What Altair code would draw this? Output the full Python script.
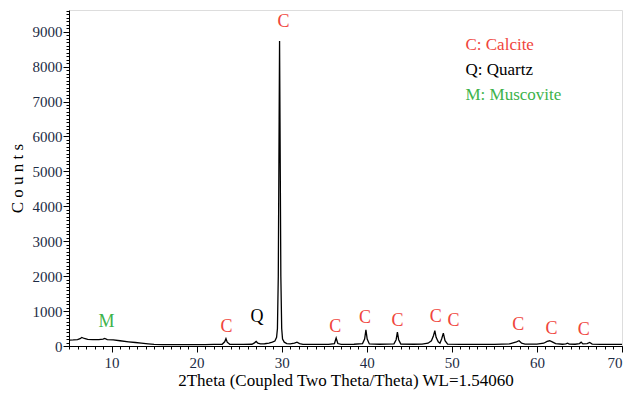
import altair as alt
import pandas as pd

# ---- diffraction profile ----
two_theta = [5.0, 5.5, 6.0, 6.3, 6.5, 6.8, 7.2, 7.8, 8.5, 9.0, 9.2, 9.5, 10.2, 11.0, 12.0, 12.8,
             13.5, 14.3, 15.0, 16.0, 17.0, 18.0, 19.0, 20.0, 21.0, 22.0, 23.0, 23.3, 23.45, 23.6,
             23.9, 24.5, 25.5, 26.5, 26.8, 27.0, 27.2, 27.5, 28.0, 28.5, 28.9, 29.2, 29.4, 29.5,
             29.6, 29.7, 29.75, 29.8, 29.9, 30.0, 30.1, 30.3, 30.6, 31.0, 31.5, 31.8, 32.1, 32.5,
             33.5, 35.5, 36.2, 36.4, 36.6, 37.0, 38.5, 39.5, 39.75, 39.9, 40.05, 40.3, 41.5, 43.2,
             43.45, 43.6, 43.75, 44.0, 45.5, 46.5, 47.2, 47.6, 47.85, 48.0, 48.15, 48.4, 48.6,
             48.8, 49.0, 49.2, 49.5, 51.0, 53.0, 55.0, 56.8, 57.2, 57.6, 57.9, 58.2, 58.6, 60.0,
             60.8, 61.2, 61.5, 61.8, 62.2, 63.0, 63.4, 63.6, 63.8, 64.5, 65.0, 65.2, 65.4, 65.9,
             66.2, 66.5, 67.5, 69.0, 70.0]
counts = [170, 175, 185, 210, 245, 215, 190, 180, 185, 195, 215, 185, 175, 150, 120, 100,
          80, 60, 45, 40, 38, 38, 40, 40, 42, 45, 50, 120, 210, 110,
          50, 45, 45, 50, 90, 130, 80, 60, 65, 85, 110, 140, 250, 500,
          2000, 6500, 8730, 6500, 2000, 500, 200, 110, 70, 60, 80, 110, 70, 45,
          45, 45, 70, 230, 70, 45, 50, 70, 200, 460, 200, 60, 50, 60,
          180, 400, 180, 55, 50, 55, 80, 150, 300, 440, 250, 120, 80,
          200, 370, 150, 55, 45, 45, 45, 60, 90, 120, 150, 80, 55, 55,
          80, 130, 150, 120, 70, 50, 60, 80, 55, 50, 70, 110, 60, 70,
          100, 55, 45, 45, 45]

# ---- phase labels above the peaks ----
ann_x = [9.4, 23.5, 27.1, 30.2, 36.3, 39.8, 43.6, 48.1, 50.2, 57.8, 61.7, 65.5]
ann_y = [680, 540, 830, 9280, 540, 800, 710, 830, 710, 600, 490, 460]
ann_text = ["M", "C", "Q", "C", "C", "C", "C", "C", "C", "C", "C", "C"]
ann_color = ["#3cb34a", "#f0453c", "#000000", "#f0453c", "#f0453c", "#f0453c", "#f0453c",
             "#f0453c", "#f0453c", "#f0453c", "#f0453c", "#f0453c"]

# ---- key text ----
key_x = [51.6, 51.6, 51.6]
key_y = [8630, 7910, 7190]
key_text = ["C: Calcite", "Q: Quartz", "M: Muscovite"]
key_color = ["#f0453c", "#000000", "#3cb34a"]

x_major = [10, 20, 30, 40, 50, 60, 70]
x_minor = list(range(5, 71))
y_major = [0, 1000, 2000, 3000, 4000, 5000, 6000, 7000, 8000, 9000]
y_minor = list(range(0, 9601, 100))

X_DOMAIN = [5, 70]
Y_DOMAIN = [0, 9620]

FONT = "Liberation Serif, Times New Roman, serif"
LABEL_COLOR = "#1c2b44"

profile = pd.DataFrame({"x": two_theta, "y": counts})
ann = pd.DataFrame({"x": ann_x, "y": ann_y, "t": ann_text, "c": ann_color})
key = pd.DataFrame({"x": key_x, "y": key_y, "t": key_text, "c": key_color})

xscale = alt.Scale(domain=X_DOMAIN, nice=False, zero=False)
yscale = alt.Scale(domain=Y_DOMAIN, nice=False)

line = alt.Chart(profile).mark_line(color="black", strokeWidth=1.3, clip=True).encode(
    x=alt.X("x:Q", scale=xscale,
            axis=alt.Axis(values=x_major, format="d", tickSize=6, labelFontSize=15,
                          labelFont=FONT, labelColor=LABEL_COLOR, labelPadding=3,
                          title="2Theta (Coupled Two Theta/Theta) WL=1.54060",
                          titleFont=FONT, titleFontSize=17, titleFontWeight="normal",
                          titleColor="black", titlePadding=2, orient="bottom",
                          domainColor="black", tickColor="black", grid=False)),
    y=alt.Y("y:Q", scale=yscale,
            axis=alt.Axis(values=y_major, format="d", tickSize=6, labelFontSize=15,
                          labelFont=FONT, labelColor=LABEL_COLOR, labelPadding=1,
                          title="C o u n t s", titleFont=FONT, titleFontSize=17,
                          titleFontWeight="normal", titleColor="black", titlePadding=6,
                          orient="left", domainColor="black", tickColor="black", grid=False)),
)

labels = alt.Chart(ann).mark_text(font=FONT, fontSize=18, baseline="middle", align="center").encode(
    x=alt.X("x:Q", scale=xscale,
            axis=alt.Axis(values=x_minor, labels=False, tickSize=3, title=None, orient="bottom",
                          domain=False, tickColor="black", grid=False)),
    y=alt.Y("y:Q", scale=yscale,
            axis=alt.Axis(values=y_minor, labels=False, tickSize=3, title=None, orient="left",
                          domain=False, tickColor="black", grid=False)),
    text="t:N",
    color=alt.Color("c:N", scale=None),
)

keytext = alt.Chart(key).mark_text(font=FONT, fontSize=17, baseline="middle", align="left").encode(
    x=alt.X("x:Q", scale=xscale, axis=None),
    y=alt.Y("y:Q", scale=yscale, axis=None),
    text="t:N",
    color=alt.Color("c:N", scale=None),
)

chart = alt.layer(line, labels, keytext).resolve_axis(
    x="independent", y="independent"
).properties(
    width=553, height=336,
    autosize=alt.AutoSizeParams(type="none"),
    padding={"left": 69, "top": 10, "right": 5, "bottom": 48},
).configure_view(stroke=None).configure(background="white")

chart.save("out.html", embed_options={"renderer": "svg", "actions": False})
